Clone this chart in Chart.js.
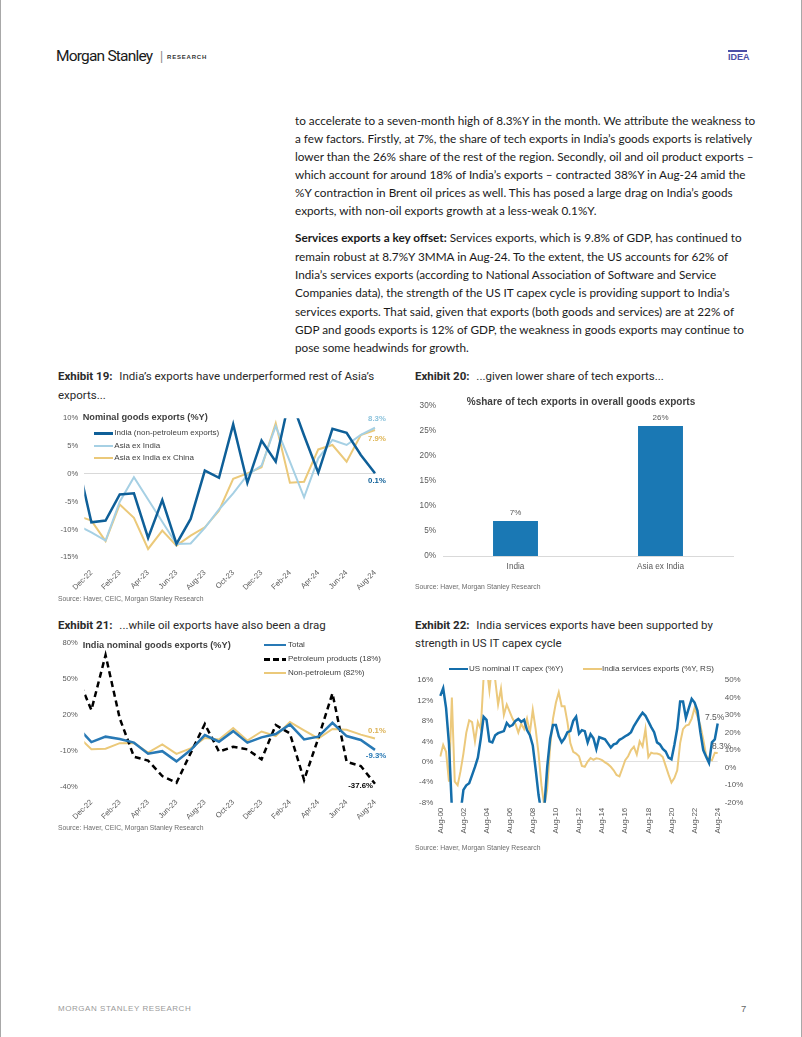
<!DOCTYPE html>
<html>
<head>
<meta charset="utf-8">
<script src="https://cdn.jsdelivr.net/npm/chart.js@4.4.1/dist/chart.umd.min.js"></script>
<style>
  html, body { margin: 0; padding: 0; background: #fff; }
  #page { position: relative; width: 802px; height: 1037px; overflow: hidden; box-sizing: border-box;
          border-left: 1px solid #a8a8a8; border-right: 1px solid #a8a8a8;
          font-family: Lato, 'Open Sans', sans-serif; color: #1a1a1a; }
  .abs { position: absolute; white-space: nowrap; }
  .body { font-size: 11.75px; line-height: 18px; left: 294px; }
  .cap { font-family: Roboto, 'Liberation Sans', sans-serif; font-size: 11.5px; line-height: 18px; color: #2a2a2a; }
  .cap b { font-weight: 700; margin-right: 4px; }
  .src { font-family: 'Liberation Sans', Arial, sans-serif; font-size: 6.8px; color: #6b6b6b; line-height: 10px; }
  .ctitle { font-family: 'Liberation Sans', Arial, sans-serif; font-size: 9.2px; font-weight: bold; color: #404040; line-height: 12px; }
  .leg { font-family: 'Liberation Sans', Arial, sans-serif; font-size: 8px; color: #404040; line-height: 10px; }
  .sw { position: absolute; }
  canvas { position: absolute; }
</style>
</head>
<body>
<div id="page">
  <!-- header -->
  <div class="abs" style="left:55px; top:47px; font-family:Roboto, sans-serif; font-size:15.5px; letter-spacing:-0.8px; color:#1a1a1a;">Morgan Stanley</div>
  <div class="abs" style="left:159px; top:49px; font-family:'Liberation Sans', sans-serif; font-size:12px; color:#8a8a8a;">|</div>
  <div class="abs" style="left:166px; top:54px; font-family:'Liberation Sans', sans-serif; font-size:6px; font-weight:bold; letter-spacing:0.8px; color:#333;">RESEARCH</div>
  <div class="abs" style="left:727px; top:50px; width:19px; height:2px; background:#4b4fa6;"></div>
  <div class="abs" style="left:727px; top:52px; font-family:'Liberation Sans', sans-serif; font-size:9px; font-weight:bold; color:#4b4fa6;">IDEA</div>

  <!-- body text -->
  <div class="abs body" style="top:111.7px;">to accelerate to a seven-month high of 8.3%Y in the month. We attribute the weakness to</div>
  <div class="abs body" style="top:129.7px;">a few factors. Firstly, at 7%, the share of tech exports in India’s goods exports is relatively</div>
  <div class="abs body" style="top:147.7px;">lower than the 26% share of the rest of the region. Secondly, oil and oil product exports –</div>
  <div class="abs body" style="top:165.7px;">which account for around 18% of India’s exports – contracted 38%Y in Aug-24 amid the</div>
  <div class="abs body" style="top:183.7px;">%Y contraction in Brent oil prices as well. This has posed a large drag on India’s goods</div>
  <div class="abs body" style="top:201.7px;">exports, with non-oil exports growth at a less-weak 0.1%Y.</div>

  <div class="abs body" style="top:229.3px;"><b>Services exports a key offset:</b> Services exports, which is 9.8% of GDP, has continued to</div>
  <div class="abs body" style="top:247.6px;">remain robust at 8.7%Y 3MMA in Aug-24. To the extent, the US accounts for 62% of</div>
  <div class="abs body" style="top:266px;">India’s services exports (according to National Association of Software and Service</div>
  <div class="abs body" style="top:284.3px;">Companies data), the strength of the US IT capex cycle is providing support to India’s</div>
  <div class="abs body" style="top:302.6px;">services exports. That said, given that exports (both goods and services) are at 22% of</div>
  <div class="abs body" style="top:321px;">GDP and goods exports is 12% of GDP, the weakness in goods exports may continue to</div>
  <div class="abs body" style="top:339.3px;">pose some headwinds for growth.</div>

  <!-- exhibit captions -->
  <div class="abs cap" style="left:57px; top:367px;"><b>Exhibit 19:</b> India’s exports have underperformed rest of Asia’s</div>
  <div class="abs cap" style="left:57px; top:386px;">exports...</div>
  <div class="abs cap" style="left:414px; top:367px;"><b>Exhibit 20:</b> ...given lower share of tech exports...</div>
  <div class="abs cap" style="left:57px; top:616px;"><b>Exhibit 21:</b> ...while oil exports have also been a drag</div>
  <div class="abs cap" style="left:414px; top:616px;"><b>Exhibit 22:</b> India services exports have been supported by</div>
  <div class="abs cap" style="left:414px; top:634px;">strength in US IT capex cycle</div>

  <!-- chart 1 -->
  <canvas id="c1" width="350" height="190" style="left:50px; top:405px;"></canvas>
  <div class="abs ctitle" style="left:81.7px; top:410.7px;">Nominal goods exports (%Y)</div>
  <div class="sw" style="left:93.3px; top:432px; width:18.4px; height:2.5px; background:#0e5f98;"></div>
  <div class="abs leg" style="left:113.3px; top:428.3px;">India (non-petroleum exports)</div>
  <div class="sw" style="left:93.3px; top:444.7px; width:18.4px; height:2px; background:#a6d0e4;"></div>
  <div class="abs leg" style="left:113.3px; top:440.7px;">Asia ex India</div>
  <div class="sw" style="left:93.3px; top:457.3px; width:18.4px; height:2px; background:#ebc97a;"></div>
  <div class="abs leg" style="left:113.3px; top:453.3px;">Asia ex India ex China</div>
  <div class="abs src" style="left:57px; top:594px;">Source: Haver, CEIC, Morgan Stanley Research</div>

  <!-- chart 2 -->
  <canvas id="c2" width="340" height="185" style="left:405px; top:395px;"></canvas>
  <div class="abs ctitle" style="left:465px; top:396.3px; width:230px; text-align:center; font-size:10px;">%share of tech exports in overall goods exports</div>
  <div class="abs src" style="left:414px; top:582px;">Source: Haver, Morgan Stanley Research</div>

  <!-- chart 3 -->
  <canvas id="c3" width="350" height="195" style="left:50px; top:630px;"></canvas>
  <div class="abs ctitle" style="left:81.7px; top:639px;">India nominal goods exports (%Y)</div>
  <div class="sw" style="left:263px; top:643.5px; width:22px; height:2.5px; background:#2879b5;"></div>
  <div class="abs leg" style="left:287px; top:639.7px;">Total</div>
  <div class="sw" style="left:263px; top:658px; width:22px; height:2.5px; background:repeating-linear-gradient(90deg,#000 0 6px,transparent 6px 9px);"></div>
  <div class="abs leg" style="left:287px; top:654.3px;">Petroleum products (18%)</div>
  <div class="sw" style="left:263px; top:672.3px; width:22px; height:2px; background:#ebc97a;"></div>
  <div class="abs leg" style="left:287px; top:668.3px;">Non-petroleum (82%)</div>
  <div class="abs src" style="left:57px; top:823px;">Source: Haver, CEIC, Morgan Stanley Research</div>

  <!-- chart 4 -->
  <canvas id="c4" width="360" height="185" style="left:405px; top:660px;"></canvas>
  <div class="sw" style="left:448px; top:667.8px; width:19px; height:2.5px; background:#146eab;"></div>
  <div class="abs leg" style="left:468px; top:664px;">US nominal IT capex (%Y)</div>
  <div class="sw" style="left:581.7px; top:668px; width:19px; height:2px; background:#ecc97c;"></div>
  <div class="abs leg" style="left:601px; top:664px;">India services exports (%Y, RS)</div>
  <div class="abs src" style="left:414px; top:843px;">Source: Haver, Morgan Stanley Research</div>

  <!-- footer -->
  <div class="abs" style="left:57px; top:1004px; font-family:'Liberation Sans', sans-serif; font-size:8px; letter-spacing:0.55px; color:#9a9a9a;">MORGAN STANLEY RESEARCH</div>
  <div class="abs" style="left:740px; top:1003px; font-family:'Liberation Sans', sans-serif; font-size:9.5px; color:#666;">7</div>
</div>

<script>
// ---- data: Exhibits 19 and 21 (monthly, %Y) ----
const months = ['Nov-22', 'Dec-22', 'Jan-23', 'Feb-23', 'Mar-23', 'Apr-23', 'May-23', 'Jun-23', 'Jul-23', 'Aug-23', 'Sep-23',
  'Oct-23', 'Nov-23', 'Dec-23', 'Jan-24', 'Feb-24', 'Mar-24', 'Apr-24', 'May-24', 'Jun-24', 'Jul-24', 'Aug-24'];

const indiaNonPetroleum = [2.5, -8.7, -8.4, -3.7, -3.5, -11.5, -4.7, -12.6, -8.1, 0.6, -0.7,
  8.9, -1.6, 6.0, 2.2, 13.9, 6.9, 0.2, 8.1, 7.4, 3.4, 0.1];
const asiaExIndia = [-9.2, -10.5, -12.0, -5.0, -0.6, -4.6, -8.6, -12.6, -12.5, -9.7, -6.4,
  -3.5, -0.2, 1.5, 8.6, 2.2, -4.2, 2.8, 6.1, 5.2, 7.0, 8.3];
const asiaExIndiaExChina = [-7.5, -8.4, -12.1, -5.5, -7.9, -13.5, -10.2, -12.9, -11.1, -9.6, -6.6,
  -0.9, 0.1, 1.2, 9.1, -1.6, -1.4, 4.4, 5.2, 2.2, 7.0, 7.9];

const totalExports = [10, -2.8, 1.7, -0.3, -3.3, -12.5, -10.4, -18.9, -9.5, 3.0, -2.5,
  6.3, -3.3, 1.1, 3.9, 11.9, -0.6, 1.7, 13.3, 2.2, -1.1, -9.3];
const petroleumProducts = [52, 23.9, 69.7, 16.9, -15, -18.3, -31.1, -36.7, -12, 12.2, -10.8,
  -6.7, -8.9, -17.2, 11.4, 4.4, -34.4, 0.3, 37.8, -19.2, -22.8, -37.6];

// ---- data: Exhibit 20 ----
const techCategories = ['India', 'Asia ex India'];
const techShare = [7, 26];

// ---- data: Exhibit 22 (quarterly from Aug-00) ----
const usItCapex = [
  12.9, 14.4, 10.5, 3.5, -9, -11.5, -12, -10, -5.5, -4.6,
  -4.2, -2.6, -1.0, 0.8, 4.5, 8.8, 8.2, 4.0, 3.8, 5.2,
  5.6, 5.8, 6.0, 7.6, 6.9, 7.2, 8.0, 8.4, 7.8, 8.2,
  6.2, 5.2, 3.2, -1.5, -6.5, -10, -9, -1.0, 4.5, 7.2,
  7.2, 5.0, 3.8, 4.6, 5.8, 6.0, 8.0, 8.8, 5.5, 6.2,
  6.0, 3.8, 5.4, 4.6, 2.5, 4.8, 4.6, 4.4, 3.6, 2.8,
  3.4, 3.6, 4.3, 4.6, 5.0, 5.3, 5.8, 7.0, 7.9, 8.8,
  9.6, 9.0, 7.9, 6.8, 5.8, 3.8, 3.4, 2.5, 2.0, 0.8,
  0.5, 3.3, 6.5, 11.8, 11.8, 8.6, 10.5, 12.3, 11.6, 10.0,
  5.8, 2.3, 1.0, -0.2, 3.8, 4.4, 7.5];
const indiaServicesExports = [
  6.3, 13.0, 9.0, -8, 40, -8, -10, -2, 8, 20,
  27, 26, 15, 26, 22, 52, 58, 44, 60, 50,
  36, 45, 30, 36, 32, 28, 25, 20, 25, 22,
  28, 20, 33, 22, 8, -10, -22, -12, 12, 28,
  37, 43, 35, 35, 26, 14, 9, 8, 6.5, 1,
  0.5, 3.5, 5.5, 4.5, 5.3, 5.0, 4.3, 3.0, 2.0, 0.5,
  -1.5, -4.2, -5.0, -0.5, 4.3, 6.5, 10, 12, 7.5, 15,
  12, 22, 6, 8.5, 8, 8, 7.5, 6, 1, -4,
  -8.5, -6, -1.5, 14, 22, 24, 24.5, 28, 34, 29,
  24, 16, 7, 4.8, 4.2, 8.5, 8.3];

const monthNames = ['Jan', 'Feb', 'Mar', 'Apr', 'May', 'Jun', 'Jul', 'Aug', 'Sep', 'Oct', 'Nov', 'Dec'];
const quarterLabels = usItCapex.map((v, i) => {
  const m = 7 + 3 * i;
  const yy = (Math.floor(m / 12)) % 100;
  return monthNames[m % 12] + '-' + String(yy).padStart(2, '0');
});

// ---- shared settings ----
const FONT = "'Liberation Sans', Arial, sans-serif";
Chart.defaults.font.family = FONT;
Chart.defaults.font.size = 7.6;
Chart.defaults.color = '#595959';
Chart.defaults.animation = false;

const pct = (v) => v + '%';
const toXY = (arr) => arr.map((v, i) => ({ x: i, y: v }));
const zeroLine = (color) => (ctx) => (ctx.tick && ctx.tick.value === 0 ? color : 'transparent');

// fix the plot area so it lines up with the page
function fixWidth(w) {
  return (scale) => { scale.width = w; scale.paddingTop = 0; scale.paddingBottom = 0; };
}
function fixHeight(h) {
  return (scale) => { scale.height = h; scale.paddingLeft = 0; scale.paddingRight = 0; };
}

// labels at the end of a line series
function makeEndLabels(items) {
  return {
    id: 'endLabels',
    afterDatasetsDraw(chart) {
      const ctx = chart.ctx;
      items.forEach(item => {
        const ds = chart.data.datasets[item.index];
        const pts = chart.getDatasetMeta(item.index).data;
        const pt = pts[pts.length - 1];
        const last = ds.data[ds.data.length - 1];
        const val = typeof last === 'object' ? last.y : last;
        ctx.save();
        ctx.font = (item.bold ? 'bold ' : '') + item.size + 'px ' + FONT;
        ctx.fillStyle = item.color;
        ctx.textAlign = item.align;
        ctx.textBaseline = 'middle';
        ctx.fillText(val.toFixed(1) + '%', pt.x + item.dx, pt.y + item.dy);
        ctx.restore();
      });
    }
  };
}

// x axis for the monthly charts: labels every second month from Dec-22
function monthlyAxis(height) {
  return {
    type: 'linear',
    min: 0.5,
    max: 21.1,
    grid: { display: false },
    border: { display: false },
    afterBuildTicks: (axis) => {
      axis.ticks = months.map((m, i) => i).filter(i => i % 2 === 1).map(i => ({ value: i }));
    },
    afterFit: fixHeight(height),
    ticks: {
      autoSkip: false,
      minRotation: 45,
      maxRotation: 45,
      padding: 3,
      callback: (v) => months[v]
    }
  };
}

// ---- Exhibit 19 ----
new Chart(document.getElementById('c1'), {
  type: 'line',
  data: {
    datasets: [
      { label: 'India (non-petroleum exports)', data: toXY(indiaNonPetroleum), borderColor: '#0e5f98', borderWidth: 2.5 },
      { label: 'Asia ex India', data: toXY(asiaExIndia), borderColor: '#a6d0e4', borderWidth: 2 },
      { label: 'Asia ex India ex China', data: toXY(asiaExIndiaExChina), borderColor: '#ebc97a', borderWidth: 2 }
    ]
  },
  options: {
    responsive: false,
    elements: { point: { radius: 0 }, line: { tension: 0, borderCapStyle: 'butt' } },
    layout: { padding: { top: 13.3, right: 24.6, left: 0, bottom: 0 } },
    plugins: { legend: { display: false }, tooltip: { enabled: false } },
    scales: {
      x: monthlyAxis(37.7),
      y: {
        min: -15, max: 10,
        grid: { color: zeroLine('#d9d9d9'), drawTicks: false },
        border: { display: false },
        afterFit: fixWidth(33.3),
        ticks: { stepSize: 5, padding: 6, callback: pct }
      }
    }
  },
  plugins: [makeEndLabels([
    { index: 1, color: '#8cc3dd', bold: true, size: 7.8, align: 'center', dx: 2, dy: -9 },
    { index: 2, color: '#e0b656', bold: true, size: 7.8, align: 'center', dx: 2, dy: 9 },
    { index: 0, color: '#0e5f98', bold: true, size: 7.8, align: 'center', dx: 2, dy: 8 }
  ])]
});

// ---- Exhibit 20 ----
new Chart(document.getElementById('c2'), {
  type: 'bar',
  data: {
    labels: techCategories,
    datasets: [{ data: techShare, backgroundColor: '#1a78b4', barPercentage: 0.31, categoryPercentage: 1 }]
  },
  options: {
    responsive: false,
    layout: { padding: { top: 11, right: 13, left: 0, bottom: 0 } },
    plugins: { legend: { display: false }, tooltip: { enabled: false } },
    scales: {
      x: {
        grid: { display: false, drawTicks: false },
        border: { display: true, color: '#d9d9d9', width: 1 },
        afterFit: fixHeight(24),
        ticks: { padding: 6, font: { size: 8.2 } }
      },
      y: {
        min: 0, max: 30,
        grid: { display: false, drawTicks: false },
        border: { display: false },
        afterFit: fixWidth(37),
        ticks: { stepSize: 5, padding: 7, font: { size: 8.2 }, callback: pct }
      }
    }
  },
  plugins: [{
    id: 'barValueLabels',
    afterDatasetsDraw(chart) {
      const ctx = chart.ctx;
      const ds = chart.data.datasets[0];
      chart.getDatasetMeta(0).data.forEach((bar, i) => {
        ctx.save();
        ctx.font = '8px ' + FONT;
        ctx.fillStyle = '#595959';
        ctx.textAlign = 'center';
        ctx.textBaseline = 'middle';
        ctx.fillText(ds.data[i] + '%', bar.x, bar.y - 8);
        ctx.restore();
      });
    }
  }]
});

// ---- Exhibit 21 ----
new Chart(document.getElementById('c3'), {
  type: 'line',
  data: {
    datasets: [
      { label: 'Total', data: toXY(totalExports), borderColor: '#2879b5', borderWidth: 2.5 },
      { label: 'Petroleum products (18%)', data: toXY(petroleumProducts), borderColor: '#000000', borderWidth: 2.5, borderDash: [6, 4] },
      { label: 'Non-petroleum (82%)', data: toXY(indiaNonPetroleum), borderColor: '#ebc97a', borderWidth: 2 }
    ]
  },
  options: {
    responsive: false,
    elements: { point: { radius: 0 }, line: { tension: 0, borderCapStyle: 'butt' } },
    layout: { padding: { top: 12.7, right: 24.6, left: 0, bottom: 0 } },
    plugins: { legend: { display: false }, tooltip: { enabled: false } },
    scales: {
      x: monthlyAxis(38.3),
      y: {
        min: -40, max: 80,
        grid: { color: zeroLine('#dbe4ec'), drawTicks: false },
        border: { display: false },
        afterFit: fixWidth(33.3),
        ticks: { stepSize: 30, padding: 6.6, callback: pct }
      }
    }
  },
  plugins: [makeEndLabels([
    { index: 2, color: '#dcb255', bold: true, size: 7.8, align: 'center', dx: 2, dy: -8 },
    { index: 0, color: '#2879b5', bold: true, size: 7.8, align: 'center', dx: 1, dy: 6 },
    { index: 1, color: '#000000', bold: true, size: 7.8, align: 'right', dx: -2, dy: 2 }
  ])]
});

// ---- Exhibit 22 ----
new Chart(document.getElementById('c4'), {
  type: 'line',
  data: {
    labels: quarterLabels,
    datasets: [
      { label: 'US nominal IT capex (%Y)', data: usItCapex, borderColor: '#146eab', borderWidth: 2.5, yAxisID: 'y' },
      { label: 'India services exports (%Y, RS)', data: indiaServicesExports, borderColor: '#ecc97c', borderWidth: 2, yAxisID: 'y2' }
    ]
  },
  options: {
    responsive: false,
    elements: { point: { radius: 0 }, line: { tension: 0 } },
    layout: { padding: { top: 20, right: 0, left: 0, bottom: 0 } },
    plugins: { legend: { display: false }, tooltip: { enabled: false } },
    scales: {
      x: {
        grid: { display: false, drawTicks: false },
        border: { display: false },
        afterBuildTicks: (axis) => { axis.ticks = axis.ticks.filter(t => t.value % 8 === 0); },
        afterFit: fixHeight(42.3),
        ticks: {
          autoSkip: false,
          minRotation: 90,
          maxRotation: 90,
          padding: 5,
          font: { size: 8 },
          callback: function (v) { return this.getLabelForValue(v); }
        }
      },
      y: {
        position: 'left',
        min: -8, max: 16,
        grid: { color: zeroLine('#e0e0e0'), drawTicks: false },
        border: { display: false },
        afterFit: fixWidth(34.3),
        ticks: { stepSize: 4, padding: 7, font: { size: 8 }, callback: pct }
      },
      y2: {
        position: 'right',
        min: -20, max: 50,
        grid: { display: false, drawTicks: false },
        border: { display: false },
        afterFit: fixWidth(48.3),
        ticks: { stepSize: 10, padding: 7, font: { size: 8 }, callback: pct }
      }
    }
  },
  plugins: [makeEndLabels([
    { index: 0, color: '#595959', bold: false, size: 8.5, align: 'left', dx: -12.7, dy: -6 },
    { index: 1, color: '#595959', bold: false, size: 8.5, align: 'left', dx: -5.7, dy: -6.4 }
  ])]
});
</script>
</body>
</html>
